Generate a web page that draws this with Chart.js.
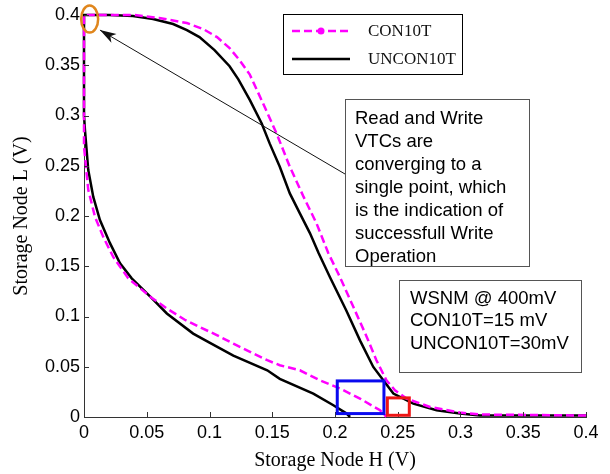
<!DOCTYPE html>
<html>
<head>
<meta charset="utf-8">
<script src="https://cdn.jsdelivr.net/npm/chart.js@4.4.1/dist/chart.umd.min.js"></script>
<style>
  html, body { margin: 0; padding: 0; background: #fff; }
  canvas { display: block; }
</style>
</head>
<body>
<canvas id="vtc" width="610" height="474"></canvas>
<script>
// butterfly curves, each cell has an upper branch (starts flat at 0.4)
// and a lower branch (starts vertical at H = 0)
var conUpperH = [0, 0.04, 0.06, 0.082, 0.095, 0.106, 0.116, 0.124, 0.132, 0.1416, 0.1535, 0.164, 0.175, 0.1853, 0.1947, 0.204, 0.2146, 0.2253, 0.233, 0.241, 0.2478, 0.257, 0.2757, 0.2996, 0.315, 0.4];
var conUpperL = [0.4, 0.4, 0.397, 0.392, 0.386, 0.378, 0.367, 0.355, 0.341, 0.315, 0.282, 0.249, 0.219, 0.1926, 0.163, 0.139, 0.1096, 0.0797, 0.0565, 0.0365, 0.0266, 0.0183, 0.01, 0.0044, 0.0025, 0.0015];
var conLowerH = [0, 0, 0.0034, 0.0088, 0.0154, 0.0234, 0.0353, 0.053, 0.066, 0.080, 0.092, 0.105, 0.119, 0.146, 0.156, 0.172, 0.188, 0.204, 0.2199, 0.2359, 0.2385, 0.241];
var conLowerL = [0.4, 0.269, 0.226, 0.199, 0.179, 0.159, 0.138, 0.1195, 0.108, 0.097, 0.0896, 0.082, 0.073, 0.0565, 0.0515, 0.0465, 0.0365, 0.0283, 0.0183, 0.0067, 0.0034, 0];

var unconUpperH = [0, 0.02, 0.039, 0.055, 0.071, 0.082, 0.092, 0.104, 0.116, 0.123, 0.1323, 0.1416, 0.148, 0.156, 0.164, 0.172, 0.180, 0.187, 0.196, 0.209, 0.22, 0.2305, 0.2385, 0.2465, 0.2624, 0.281, 0.2996, 0.3155, 0.4];
var unconUpperL = [0.4, 0.4, 0.399, 0.396, 0.391, 0.385, 0.378, 0.365, 0.349, 0.336, 0.315, 0.292, 0.272, 0.249, 0.2225, 0.2026, 0.183, 0.163, 0.139, 0.106, 0.076, 0.0498, 0.0365, 0.0233, 0.0133, 0.0067, 0.0034, 0.0015, 0.0015];
var unconLowerH = [0, 0, 0.0008, 0.0034, 0.0074, 0.0127, 0.0207, 0.0287, 0.038, 0.053, 0.066, 0.087, 0.100, 0.119, 0.146, 0.156, 0.1827, 0.1987, 0.2093, 0.212];
var unconLowerL = [0.4, 0.3, 0.285, 0.2457, 0.219, 0.196, 0.173, 0.153, 0.138, 0.1195, 0.103, 0.083, 0.074, 0.061, 0.0465, 0.038, 0.0233, 0.0117, 0.0034, 0];

var hTicks = ['0', '0.05', '0.1', '0.15', '0.2', '0.25', '0.3', '0.35', '0.4'];
var lTicks = ['0', '0.05', '0.1', '0.15', '0.2', '0.25', '0.3', '0.35', '0.4'];

var noteText = ['Read and Write', 'VTCs are', 'converging to a', 'single point, which', 'is the indication of', 'successfull Write', 'Operation'];
var wsnmText = ['WSNM @ 400mV', 'CON10T=15 mV', 'UNCON10T=30mV'];

// one continuous path: upper branch walked back to (0,0.4), then down the lower branch
function loop(uh, ul, lh, ll) {
  var pts = [];
  for (var i = uh.length - 1; i >= 0; i--) pts.push({x: uh[i], y: ul[i]});
  for (var j = 1; j < lh.length; j++) pts.push({x: lh[j], y: ll[j]});
  return pts;
}

var sans = "'Liberation Sans', Arial, sans-serif";
var serif = "'Liberation Serif', 'Times New Roman', serif";

function seg(ctx, x1, y1, x2, y2) {
  ctx.beginPath(); ctx.moveTo(x1, y1); ctx.lineTo(x2, y2); ctx.stroke();
}

var overlay = {
  id: 'overlay',
  afterDatasetsDraw: function(chart) {
    var ctx = chart.ctx, xs = chart.scales.x, ys = chart.scales.y, area = chart.chartArea;
    ctx.save();

    // tick marks pointing into the plot
    ctx.strokeStyle = '#333';
    ctx.lineWidth = 1;
    xs.ticks.forEach(function(t) {
      var px = Math.round(xs.getPixelForValue(t.value)) + 0.5;
      seg(ctx, px, area.bottom, px, area.bottom - 5);
    });
    ys.ticks.forEach(function(t) {
      var py = Math.round(ys.getPixelForValue(t.value)) + 0.5;
      seg(ctx, area.left, py, area.left + 5, py);
    });

    // highlight boxes around the crossing region
    function dataRect(x0, x1, y0, y1, color) {
      var l = xs.getPixelForValue(x0), r = xs.getPixelForValue(x1);
      var t = ys.getPixelForValue(y1), b = ys.getPixelForValue(y0);
      ctx.strokeStyle = color;
      ctx.lineWidth = 3;
      ctx.strokeRect(l, t, r - l, b - t);
    }
    dataRect(0.2018, 0.239, 0.0034, 0.0359, '#0a0aef');
    dataRect(0.2417, 0.2592, 0.0017, 0.019, '#ee1515');

    // ellipse at the meeting point
    var ex = xs.getPixelForValue(0.0045), ey = ys.getPixelForValue(0.396);
    ctx.strokeStyle = '#e0861c';
    ctx.lineWidth = 2.5;
    ctx.beginPath();
    ctx.ellipse(ex, ey, 8.5, 13.5, 0, 0, Math.PI * 2);
    ctx.stroke();

    // arrow from the note to the meeting point
    var tipX = xs.getPixelForValue(0.0127), tipY = ys.getPixelForValue(0.385);
    var tailX = 345, tailY = 174;
    ctx.strokeStyle = '#111';
    ctx.fillStyle = '#111';
    ctx.lineWidth = 1;
    seg(ctx, tailX, tailY, tipX, tipY);
    var ang = Math.atan2(tipY - tailY, tipX - tailX);
    ctx.beginPath();
    ctx.moveTo(tipX, tipY);
    ctx.lineTo(tipX - 17 * Math.cos(ang - 0.3), tipY - 17 * Math.sin(ang - 0.3));
    ctx.lineTo(tipX - 12 * Math.cos(ang), tipY - 12 * Math.sin(ang));
    ctx.lineTo(tipX - 17 * Math.cos(ang + 0.3), tipY - 17 * Math.sin(ang + 0.3));
    ctx.closePath();
    ctx.fill();

    // text boxes
    function textBox(l, t, w, h, lines, tx, ty, step) {
      ctx.fillStyle = '#fff';
      ctx.fillRect(l, t, w, h);
      ctx.strokeStyle = '#555';
      ctx.lineWidth = 1;
      ctx.strokeRect(l + 0.5, t + 0.5, w, h);
      ctx.fillStyle = '#000';
      ctx.font = '18.5px ' + sans;
      ctx.textAlign = 'left';
      ctx.textBaseline = 'alphabetic';
      lines.forEach(function(s, i) { ctx.fillText(s, tx, ty + i * step); });
    }
    textBox(345, 99, 184, 167, noteText, 355, 123.5, 23);
    textBox(399, 280, 182, 92, wsnmText, 410, 303.5, 22.5);

    // legend
    ctx.fillStyle = '#fff';
    ctx.fillRect(283, 14, 179, 60);
    ctx.strokeStyle = '#000';
    ctx.lineWidth = 1;
    ctx.strokeRect(283.5, 14.5, 179, 60);
    chart.data.datasets.forEach(function(ds, i) {
      var ly = 31 + i * 28;
      ctx.strokeStyle = ds.borderColor;
      ctx.lineWidth = ds.borderWidth;
      ctx.setLineDash(ds.borderDash || []);
      seg(ctx, 292, ly, 350, ly);
      ctx.setLineDash([]);
      if (ds.legendDot) {
        ctx.fillStyle = ds.borderColor;
        ctx.beginPath(); ctx.arc(321, ly, 3.5, 0, Math.PI * 2); ctx.fill();
      }
      ctx.fillStyle = '#111';
      ctx.font = '17px ' + serif;
      ctx.textBaseline = 'middle';
      ctx.fillText(ds.label, 368, ly + 1);
    });

    ctx.restore();
  }
};

new Chart(document.getElementById('vtc'), {
  type: 'scatter',
  data: {
    datasets: [
      {
        label: 'CON10T',
        data: loop(conUpperH, conUpperL, conLowerH, conLowerL),
        showLine: true,
        borderColor: '#ff00ff',
        borderWidth: 2.5,
        borderDash: [8, 4],
        legendDot: true,
        pointRadius: 0,
        tension: 0,
        clip: 6
      },
      {
        label: 'UNCON10T',
        data: loop(unconUpperH, unconUpperL, unconLowerH, unconLowerL),
        showLine: true,
        borderColor: '#000000',
        borderWidth: 2.5,
        pointRadius: 0,
        tension: 0,
        clip: 6
      }
    ]
  },
  options: {
    responsive: false,
    animation: false,
    layout: { padding: { top: 15, right: 24, left: 0, bottom: 0 } },
    plugins: { legend: { display: false }, tooltip: { enabled: false } },
    scales: {
      x: {
        type: 'linear', min: 0, max: 0.4,
        afterFit: function(s) { s.height = 57; },
        grid: { display: false, drawTicks: false },
        border: { display: true, color: '#333', width: 1 },
        ticks: {
          stepSize: 0.05, padding: 5, color: '#000',
          font: { family: sans, size: 18 },
          maxRotation: 0, autoSkip: false,
          callback: function(v, i) { return hTicks[i]; }
        },
        title: {
          display: true, text: 'Storage Node H (V)', color: '#000',
          font: { family: serif, size: 20 },
          padding: { top: 0, bottom: 1 }
        }
      },
      y: {
        type: 'linear', min: 0, max: 0.4,
        afterFit: function(s) { s.width = 84; },
        grid: { display: false, drawTicks: false },
        border: { display: true, color: '#333', width: 1 },
        ticks: {
          stepSize: 0.05, padding: 4, color: '#000',
          font: { family: sans, size: 18 },
          autoSkip: false,
          callback: function(v, i) { return lTicks[i]; }
        },
        title: {
          display: true, text: 'Storage Node L (V)', color: '#000',
          font: { family: serif, size: 20 },
          padding: { top: 10, bottom: 0 }
        }
      }
    }
  },
  plugins: [overlay]
});
</script>
</body>
</html>
